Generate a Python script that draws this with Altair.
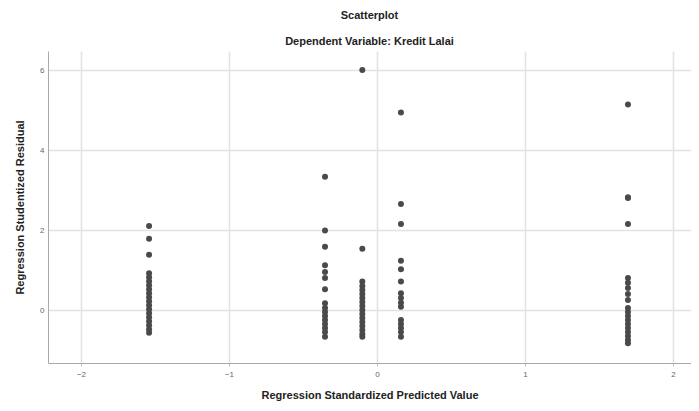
import altair as alt
import pandas as pd

# Predicted value column positions (x) and studentized residuals (y) per column
col_x = [-1.54, -0.351, -0.099, 0.162, 1.696]
col_a = [2.10, 1.78, 1.38, 0.92, 0.82, 0.72, 0.62, 0.52, 0.42, 0.32, 0.22, 0.12, 0.02, -0.08, -0.18, -0.28, -0.38, -0.48, -0.57]
col_b = [3.33, 1.99, 1.58, 1.12, 0.95, 0.80, 0.52, 0.17, 0.05, -0.05, -0.15, -0.25, -0.35, -0.45, -0.55, -0.67]
col_c = [6.0, 1.53, 0.71, 0.60, 0.50, 0.40, 0.30, 0.20, 0.10, 0.0, -0.10, -0.20, -0.30, -0.40, -0.50, -0.60, -0.67]
col_d = [4.94, 2.65, 2.15, 1.23, 1.02, 0.71, 0.42, 0.30, 0.18, 0.08, -0.25, -0.35, -0.45, -0.55, -0.67]
col_e = [5.14, 2.82, 2.80, 2.15, 0.80, 0.68, 0.55, 0.40, 0.25, 0.05, -0.05, -0.15, -0.25, -0.35, -0.45, -0.55, -0.65, -0.75, -0.83]

x_ticks = [-2, -1, 0, 1, 2]
y_ticks = [0, 2, 4, 6]

rows = []
for xv, ys in zip(col_x, [col_a, col_b, col_c, col_d, col_e]):
    for yv in ys:
        rows.append({"pred": xv, "resid": yv})
df = pd.DataFrame(rows)

font = "Liberation Sans"

chart = alt.Chart(df).mark_circle(size=36, color="#4a4a4a", opacity=1).encode(
    x=alt.X("pred:Q", scale=alt.Scale(domain=[-2.223, 2.122], nice=False, zero=False),
            axis=alt.Axis(title="Regression Standardized Predicted Value", values=x_ticks,
                          format="d", labelFontSize=8, labelColor="#666", labelPadding=4,
                          titleFontSize=11, titleFontWeight="bold", titleColor="#222",
                          titlePadding=11, tickSize=3, tickColor="#bbb",
                          domainColor="#aaa", gridColor="#e2e2e2", gridWidth=1.5)),
    y=alt.Y("resid:Q", scale=alt.Scale(domain=[-1.325, 6.475], nice=False, zero=False),
            axis=alt.Axis(title="Regression Studentized Residual", values=y_ticks,
                          format="d", labelFontSize=8, labelColor="#666", labelPadding=4,
                          titleFontSize=11, titleFontWeight="bold", titleColor="#222",
                          titlePadding=14, tickSize=0,
                          domainColor="#aaa", gridColor="#e2e2e2", gridWidth=1.5)),
).properties(
    width=643,
    height=312,
    autosize=alt.AutoSizeParams(type="none"),
    padding={"left": 40, "top": 43, "right": 0, "bottom": 40},
    title=alt.TitleParams(
        text="Scatterplot",
        subtitle="Dependent Variable: Kredit Lalai",
        fontSize=11, fontWeight="bold", color="#222",
        subtitleFontSize=11, subtitleFontWeight="bold", subtitleColor="#222",
        subtitlePadding=15, offset=4, anchor="middle", frame="group",
        font=font, subtitleFont=font,
    ),
).configure_view(stroke=None).configure_axis(
    labelFont=font, titleFont=font
)

chart.save("out.html", embed_options={"renderer": "svg", "actions": False})
